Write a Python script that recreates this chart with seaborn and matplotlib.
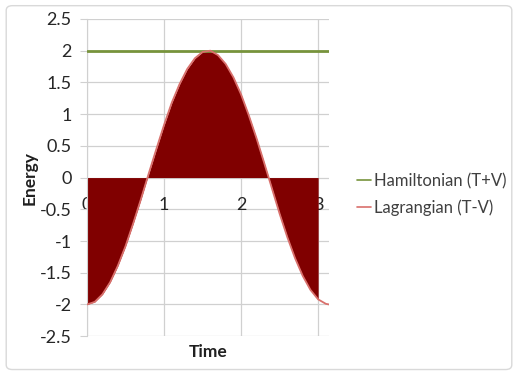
import matplotlib
matplotlib.use("Agg")
import matplotlib.pyplot as plt
import seaborn as sns
import pandas as pd
import numpy as np
from matplotlib.patches import FancyBboxPatch

time = [0.0, 0.1, 0.2, 0.3, 0.4, 0.5, 0.6, 0.7, 0.8, 0.9, 1.0, 1.1, 1.2, 1.3, 1.4, 1.5,
        1.6, 1.7, 1.8, 1.9, 2.0, 2.1, 2.2, 2.3, 2.4, 2.5, 2.6, 2.7, 2.8, 2.9, 3.0, 3.1, 3.14]
lagrangian = [-2.00, -1.96, -1.84, -1.65, -1.39, -1.08, -0.72, -0.34, 0.06, 0.45, 0.83, 1.18,
              1.47, 1.71, 1.88, 1.98, 2.00, 1.93, 1.79, 1.58, 1.31, 0.98, 0.62, 0.23, -0.17,
              -0.57, -0.94, -1.27, -1.55, -1.77, -1.92, -1.99, -2.00]
hamiltonian = [2.0] * len(time)
y_ticks = [-2.5, -2, -1.5, -1, -0.5, 0, 0.5, 1, 1.5, 2, 2.5]
y_tick_labels = ["-2.5", "-2", "-1.5", "-1", "-0.5", "0", "0.5", "1", "1.5", "2", "2.5"]
x_ticks = [0, 1, 2, 3]

df = pd.DataFrame({"Time": time, "Hamiltonian (T+V)": hamiltonian, "Lagrangian (T-V)": lagrangian})

sns.set_style("white")
plt.rcParams['font.family'] = ['Lato', 'DejaVu Sans']

fig = plt.figure(figsize=(5.18, 3.79), dpi=100)
ax = fig.add_axes([0.168, 0.113, 0.467, 0.837])

grid_c = "#D0D0D0"
for yv in y_ticks:
    ax.axhline(yv, color=grid_c, lw=0.9, zorder=0)
for xv in x_ticks:
    ax.axvline(xv, color=grid_c, lw=0.9, zorder=0)

mask = np.array(time) <= 3.0001
t_arr = np.array(time)
l_arr = np.array(lagrangian)
ax.fill_between(t_arr[mask], 0, l_arr[mask], color="#800000", lw=0, zorder=1)

sns.lineplot(data=df, x="Time", y="Hamiltonian (T+V)", ax=ax, color="#77933C", lw=2,
             label="Hamiltonian (T+V)", zorder=3)
sns.lineplot(data=df, x="Time", y="Lagrangian (T-V)", ax=ax, color="#D9706C", lw=1.3,
             label="Lagrangian (T-V)", zorder=3)

ax.set_xlim(0, 3.14)
ax.set_ylim(-2.5, 2.5)
ax.set_yticks(y_ticks)
ax.set_yticklabels(y_tick_labels, color="#404040")
ax.set_xticks(x_ticks)
ax.set_xticklabels([str(x) for x in x_ticks], color="#404040")

for s in ["top", "right"]:
    ax.spines[s].set_visible(False)
ax.spines["left"].set_color(grid_c)
ax.spines["left"].set_position(("data", 0))
ax.spines["bottom"].set_position(("data", 0))
ax.spines["bottom"].set_visible(False)
ax.tick_params(axis="y", length=5, color=grid_c, pad=6, left=True, labelsize=13)
ax.tick_params(axis="x", length=0, pad=14, labelsize=13)

ax.set_xlabel("")
ax.set_ylabel("")
fig.text(0.402, 0.072, "Time", fontsize=12.5, fontweight="bold", ha="center", va="center", color="#202020")
fig.text(0.058, 0.53, "Energy", fontsize=12.5, fontweight="bold", ha="center", va="center",
         rotation=90, color="#202020")

leg = ax.legend(loc="center left", bbox_to_anchor=(0.676, 0.487), bbox_transform=fig.transFigure,
                frameon=False, fontsize=12, handlelength=0.85, handletextpad=0.15,
                labelspacing=0.6, borderaxespad=0)
for line in leg.get_lines():
    line.set_linewidth(1.2)
for txt in leg.get_texts():
    txt.set_color("#404040")

border = FancyBboxPatch((0.012, 0.025), 0.976, 0.96, boxstyle="round,pad=0,rounding_size=0.012",
                        transform=fig.transFigure, fill=False, edgecolor="#D9D9D9", lw=1)
fig.patches.append(border)

fig.savefig("out.png", dpi=100)
